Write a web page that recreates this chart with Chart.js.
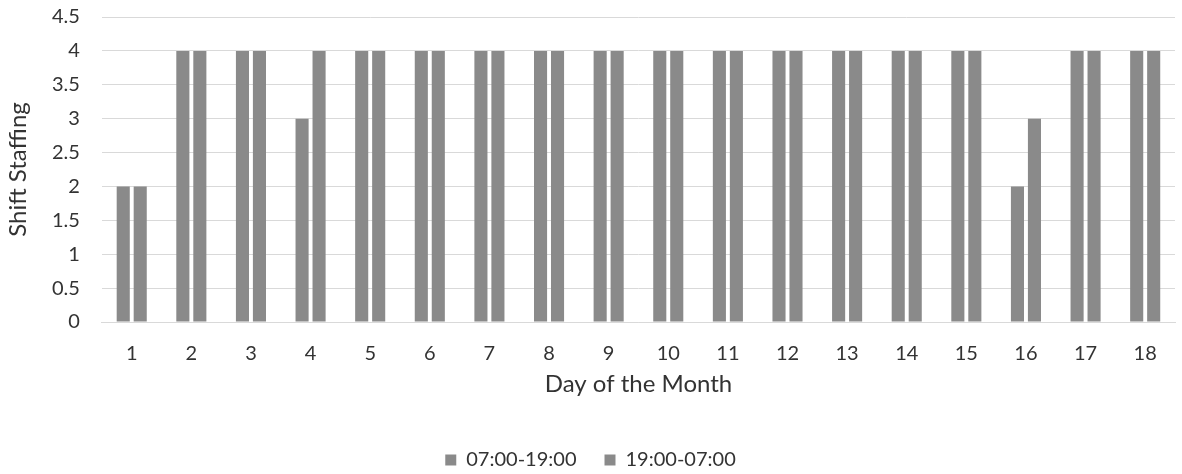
<!DOCTYPE html>
<html>
<head>
<meta charset="utf-8">
<script src="https://cdn.jsdelivr.net/npm/chart.js@4/dist/chart.umd.min.js"></script>
<style>
  html, body { margin: 0; padding: 0; background: #fff; overflow: hidden; }
  #wrap { width: 1182px; height: 489px; margin-top: -15px; }
</style>
</head>
<body>
<div id="wrap"><canvas id="canvas1"></canvas></div>
<script>
var days = ['1','2','3','4','5','6','7','8','9','10','11','12','13','14','15','16','17','18'];
var dayShift   = [2, 4, 4, 3, 4, 4, 4, 4, 4, 4, 4, 4, 4, 4, 4, 2, 4, 4];
var nightShift = [2, 4, 4, 4, 4, 4, 4, 4, 4, 4, 4, 4, 4, 4, 4, 3, 4, 4];
var seriesNames = ['07:00-19:00', '19:00-07:00'];

window.onload = function() {
	var grey = '#8a8a8a';
	Chart.defaults.font.family = "Lato, 'Open Sans', sans-serif";
	Chart.defaults.color = '#333';

	var config = {
		type: 'bar',
		data: {
			labels: days,
			datasets: [{
				label: seriesNames[0],
				backgroundColor: grey,
				data: dayShift,
				categoryPercentage: 0.57,
				barPercentage: 0.77
			},
			{
				label: seriesNames[1],
				backgroundColor: grey,
				data: nightShift,
				categoryPercentage: 0.57,
				barPercentage: 0.77
			}]
		},
		options: {
			responsive: true,
			maintainAspectRatio: false,
			animation: false,
			layout: { autoPadding: false, padding: { left: 6, right: 7, top: 17, bottom: -6 } },
			plugins: {
				legend: {
					position: 'bottom',
					labels: { boxWidth: 11, boxHeight: 11, font: { size: 20, lineHeight: 1 }, padding: 28 }
				},
				tooltip: { enabled: false }
			},
			scales: {
				x: {
					grid: { display: false },
					border: { color: '#d9d9d9' },
					ticks: { font: { size: 20, lineHeight: 1 }, padding: 14, maxRotation: 0, minRotation: 0, autoSkip: false },
					title: {
						display: true,
						text: 'Day of the Month',
						font: { size: 24, lineHeight: 1 },
						padding: { top: -6, bottom: 26 }
					}
				},
				y: {
					min: 0,
					max: 4.5,
					grid: { color: '#d9d9d9', drawTicks: false },
					border: { display: false },
					ticks: {
						stepSize: 0.5,
						font: { size: 20, lineHeight: 1 },
						padding: 22,
						callback: function(v) { return String(v); }
					},
					title: {
						display: true,
						text: 'Shift Staffing',
						font: { size: 24, lineHeight: 1 },
						padding: { top: 0, bottom: 0 }
					}
				}
			}
		}
	};

	var ctx = document.getElementById('canvas1').getContext('2d');
	window.myBar = new Chart(ctx, config);
};
</script>
</body>
</html>
